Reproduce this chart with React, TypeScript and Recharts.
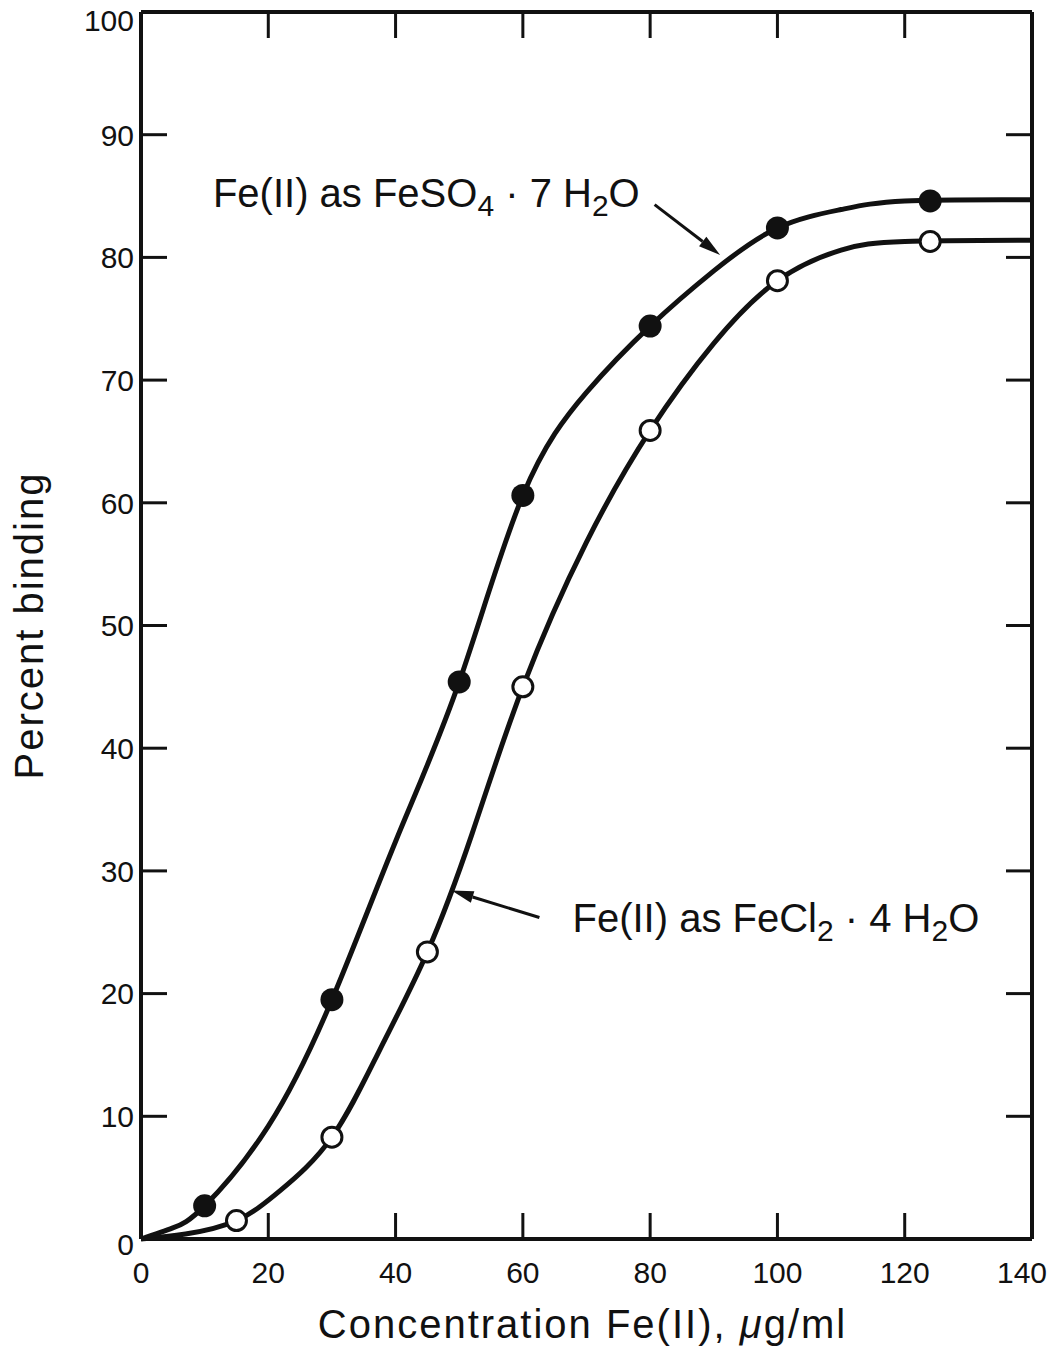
import { ComposedChart, Line, Scatter, XAxis, YAxis, ReferenceLine, ReferenceDot } from 'recharts'

// measured points
const sulfateX = [10, 30, 50, 60, 80, 100, 124]
const sulfateY = [2.7, 19.5, 45.4, 60.6, 74.4, 82.4, 84.6]
const chlorideX = [15, 30, 45, 60, 80, 100, 124]
const chlorideY = [1.5, 8.3, 23.4, 45.0, 65.9, 78.1, 81.3]

// hand-drawn fitted curves
const sulfateCurveX = [0, 5, 10, 20, 30, 40, 50, 60, 70, 80, 90, 100, 110, 120, 140]
const sulfateCurveY = [0, 0.9, 2.7, 9.2, 19.5, 32.4, 45.4, 60.6, 69.0, 74.4, 78.9, 82.4, 83.9, 84.6, 84.7]
const chlorideCurveX = [0, 7, 15, 22, 30, 37.5, 45, 52, 60, 70, 80, 90, 100, 110, 120, 140]
const chlorideCurveY = [0, 0.4, 1.5, 4.0, 8.3, 15.4, 23.4, 33.0, 45.0, 56.8, 65.9, 73.0, 78.1, 80.6, 81.3, 81.4]

const xTicks = [0, 20, 40, 60, 80, 100, 120, 140]
const yTicks = [0, 10, 20, 30, 40, 50, 60, 70, 80, 90, 100]

const zip = (xs: number[], ys: number[]) => xs.map((x, i) => ({ x, y: ys[i] }))

const INK = '#111'
const FONT = '"Liberation Sans", Arial, Helvetica, sans-serif'
const TICK_LEN = 26

const BottomTick = ({ x, y, payload }: any) => (
  <g>
    <line x1={x} y1={y} x2={x} y2={y - TICK_LEN} stroke={INK} strokeWidth={3} />
    <text x={payload.value === 140 ? x - 10 : x} y={y + 44} textAnchor="middle" fontSize={30} fontFamily={FONT} fill={INK}>
      {payload.value}
    </text>
  </g>
)
const TopTick = ({ x, y }: any) => <line x1={x} y1={y} x2={x} y2={y + TICK_LEN} stroke={INK} strokeWidth={3} />
const LeftTick = ({ x, y, payload }: any) => {
  const shift = payload.value === 100 ? 8 : payload.value === 0 ? 5 : 0
  return (
    <g>
      <line x1={x} y1={y} x2={x + TICK_LEN} y2={y} stroke={INK} strokeWidth={3} />
      <text x={x - 7} y={y + shift} dy="0.36em" textAnchor="end" fontSize={30} fontFamily={FONT} fill={INK}>{payload.value}</text>
    </g>
  )
}
const RightTick = ({ x, y }: any) => <line x1={x} y1={y} x2={x - TICK_LEN} y2={y} stroke={INK} strokeWidth={3} />

const arrow = (p: any) => {
  const { x1, y1, x2, y2 } = p
  const a = Math.atan2(y2 - y1, x2 - x1)
  const L = 22, W = 6
  const bx = x2 - L * Math.cos(a), by = y2 - L * Math.sin(a)
  const pts = [
    `${x2},${y2}`,
    `${bx + W * Math.sin(a)},${by - W * Math.cos(a)}`,
    `${bx - W * Math.sin(a)},${by + W * Math.cos(a)}`,
  ].join(' ')
  return (
    <g>
      <line x1={x1} y1={y1} x2={bx} y2={by} stroke={INK} strokeWidth={3} />
      <polygon points={pts} fill={INK} />
    </g>
  )
}

const formula = (lead: string, sub1: string, mid: string) => (p: any) => (
  <text x={p.cx} y={p.cy} fontSize={40} fontFamily={FONT} fill={INK}>
    {lead}
    <tspan dy={9} fontSize={30}>{sub1}</tspan>
    <tspan dy={-9}>{mid}</tspan>
    <tspan dy={9} fontSize={30}>2</tspan>
    <tspan dy={-9}>O</tspan>
  </text>
)

const filledDot = (p: any) => <circle cx={p.cx} cy={p.cy} r={11.5} fill={INK} />
const openDot = (p: any) => <circle cx={p.cx} cy={p.cy} r={10} fill="#fff" stroke={INK} strokeWidth={3} />
const noDot = () => <g />

export default function App() {
  return (
    <div style={{ background: '#fff', margin: -8 }}>
      <ComposedChart width={1055} height={1354} margin={{ top: 11, right: 22, bottom: 0, left: 0 }}>
        <XAxis
          dataKey="x" type="number" domain={[0, 140]} ticks={xTicks} height={115}
          axisLine={{ stroke: INK, strokeWidth: 4 }} tickLine={false} tickSize={0} tickMargin={0}
          tick={BottomTick} interval={0}
          label={{
            content: ({ viewBox }: any) => (
              <text x={viewBox.x + viewBox.width / 2 - 4} y={viewBox.y + 99} textAnchor="middle"
                fontSize={40} letterSpacing={2} fontFamily={FONT} fill={INK}>
                Concentration Fe(II), <tspan fontStyle="italic">μ</tspan>g/ml
              </text>
            ),
          }}
        />
        <XAxis
          xAxisId="top" orientation="top" dataKey="x" type="number" domain={[0, 140]} ticks={xTicks} height={1}
          axisLine={{ stroke: INK, strokeWidth: 4 }} tickLine={false} tickSize={0} tickMargin={0}
          tick={TopTick} interval={0}
        />
        <YAxis
          type="number" domain={[0, 100]} ticks={yTicks} width={141}
          axisLine={{ stroke: INK, strokeWidth: 4 }} tickLine={false} tickSize={0} tickMargin={0}
          tick={LeftTick} interval={0}
          label={{
            content: ({ viewBox }: any) => {
              const cx = 43
              const cy = viewBox.y + viewBox.height / 2
              return (
                <text x={cx} y={cy} transform={`rotate(-90 ${cx} ${cy})`} textAnchor="middle"
                  fontSize={40} letterSpacing={2} fontFamily={FONT} fill={INK}>
                  Percent binding
                </text>
              )
            },
          }}
        />
        <YAxis
          yAxisId="right" orientation="right" type="number" domain={[0, 100]} ticks={yTicks} width={1}
          axisLine={{ stroke: INK, strokeWidth: 4 }} tickLine={false} tickSize={0} tickMargin={0}
          tick={RightTick} interval={0}
        />

        <Line data={zip(sulfateCurveX, sulfateCurveY)} dataKey="y" type="natural" stroke={INK}
          strokeWidth={5} dot={false} activeDot={false} isAnimationActive={false} />
        <Line data={zip(chlorideCurveX, chlorideCurveY)} dataKey="y" type="natural" stroke={INK}
          strokeWidth={5} dot={false} activeDot={false} isAnimationActive={false} />
        <Scatter data={zip(sulfateX, sulfateY)} dataKey="y" shape={filledDot} isAnimationActive={false} />
        <Scatter data={zip(chlorideX, chlorideY)} dataKey="y" shape={openDot} isAnimationActive={false} />
        {/* binds the mirrored frame axes so their ticks get drawn */}
        <Scatter xAxisId="top" yAxisId="right" data={zip(sulfateX, sulfateY)} dataKey="y" shape={noDot} isAnimationActive={false} />

        <ReferenceLine segment={[{ x: 80.7, y: 84.3 }, { x: 91, y: 80.2 }]} shape={arrow} />
        <ReferenceLine segment={[{ x: 62.6, y: 26.2 }, { x: 48.8, y: 28.4 }]} shape={arrow} />
        <ReferenceDot x={11.3} y={84.1} r={0} shape={formula('Fe(II) as FeSO', '4', ' · 7 H')} />
        <ReferenceDot x={67.8} y={25.0} r={0} shape={formula('Fe(II) as FeCl', '2', ' · 4 H')} />
      </ComposedChart>
    </div>
  )
}
